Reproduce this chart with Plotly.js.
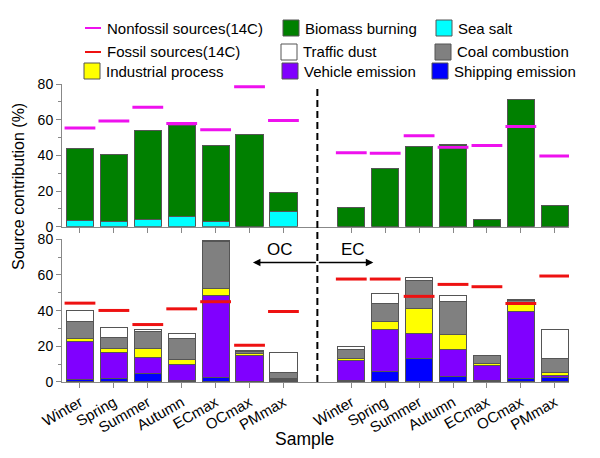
<!DOCTYPE html>
<html>
<head>
<meta charset="utf-8">
<script src="https://cdn.plot.ly/plotly-3.0.1.min.js"></script>
<style>
  html, body { margin: 0; padding: 0; background: #fff; }
  #chart { width: 600px; height: 458px; }
</style>
</head>
<body>
<div id="chart"></div>
<script>
var samples = ["Winter", "Spring", "Summer", "Autumn", "ECmax", "OCmax", "PMmax"];

// OC group (left), values in %
var seaSaltOC    = [3.6, 2.8, 4.1, 5.8, 2.8, 0, 8.8];
var biomassOC    = [40.1, 37.5, 49.7, 51.0, 42.9, 51.7, 10.3];
var nonfossilOC  = [55.3, 59.2, 66.9, 57.9, 54.3, 78.5, 59.6];
var shippingOC   = [1.5, 2.2, 4.7, 0.9, 2.6, 0.4, 0.8];
var vehicleOC    = [21.4, 14.5, 8.8, 8.8, 45.9, 14.6, 0.6];
var industrialOC = [1.5, 2.0, 5.0, 3.0, 4.1, 1.1, 0.3];
var coalOC       = [9.3, 6.2, 9.8, 11.5, 26.1, 0.8, 3.4];
var trafficOC    = [6.6, 5.5, 1.3, 3.2, 0.4, 0.5, 11.4];
var fossilOC     = [44.2, 40.1, 32.2, 41.0, 45.0, 20.6, 39.5];

// EC group (right)
var seaSaltEC    = [0, 0, 0, 0, 0, 0, 0];
var biomassEC    = [10.9, 32.4, 45.2, 45.9, 4.1, 71.4, 11.8];
var nonfossilEC  = [41.4, 41.2, 51.0, 44.6, 45.5, 56.2, 39.7];
var shippingEC   = [0.9, 6.0, 13.1, 3.2, 0.6, 1.9, 2.8];
var vehicleEC    = [10.9, 23.6, 14.3, 14.8, 8.6, 37.8, 0.9];
var industrialEC = [1.3, 4.1, 13.6, 8.6, 1.1, 3.6, 1.4];
var coalEC       = [5.1, 10.3, 15.8, 18.4, 4.7, 2.2, 7.8];
var trafficEC    = [1.8, 5.6, 1.7, 3.2, 0, 0.8, 16.3];
var fossilEC     = [57.7, 57.7, 48.0, 54.7, 53.4, 44.0, 59.4];

// x positions: OC at 0..6, EC at 8..14, gap at 7
var xPos = samples.map(function (s, i) { return i; })
    .concat(samples.map(function (s, i) { return i + 8; }));
var tickText = samples.concat(samples);

var edge = { color: "#555", width: 1 };

function bar(name, oc, ec, color, yaxis) {
    return {
        type: "bar",
        name: name,
        x: xPos,
        y: oc.concat(ec),
        yaxis: yaxis,
        xaxis: yaxis == "y2" ? "x2" : "x",
        width: 0.8,
        marker: { color: color, line: edge },
        showlegend: false,
        hoverinfo: "y+name",
    };
}

function dash(name, oc, ec, color, yaxis) {
    return {
        type: "scatter",
        mode: "markers",
        name: name,
        x: xPos,
        y: oc.concat(ec),
        yaxis: yaxis,
        xaxis: yaxis == "y2" ? "x2" : "x",
        marker: { symbol: "line-ew", size: 22, line: { color: color, width: 3 } },
        showlegend: false,
    };
}

var data = [
    bar("Sea salt", seaSaltOC, seaSaltEC, "#00ffff", "y2"),
    bar("Biomass burning", biomassOC, biomassEC, "#008000", "y2"),
    dash("Nonfossil sources(14C)", nonfossilOC, nonfossilEC, "#ee11ee", "y2"),
    bar("Shipping emission", shippingOC, shippingEC, "#0000ff", "y"),
    bar("Vehicle emission", vehicleOC, vehicleEC, "#8000ff", "y"),
    bar("Industrial process", industrialOC, industrialEC, "#ffff00", "y"),
    bar("Coal combustion", coalOC, coalEC, "#808080", "y"),
    bar("Traffic dust", trafficOC, trafficEC, "#ffffff", "y"),
    dash("Fossil sources(14C)", fossilOC, fossilEC, "#ee1111", "y"),
];

// pixel -> paper helpers for the hand-built legend
var L = 62, R = 31, T = 84, B = 76, W = 600, H = 458;
function px(v) { return (v - L) / (W - L - R); }
function py(v) { return (H - B - v) / (H - T - B); }

var shapes = [
    {
        type: "line", xref: "x", yref: "paper", x0: 7, x1: 7, y0: 0, y1: py(88),
        line: { color: "#000", width: 2, dash: "7px,4px" },
    },
];
var annotations = [
    {
        text: "Source contribution (%)", xref: "paper", yref: "paper",
        x: px(18), y: py(187), xanchor: "center", yanchor: "middle",
        textangle: -90, showarrow: false, font: { size: 16 },
    },
    {
        text: "Sample", xref: "paper", yref: "paper",
        x: px(304), y: py(439), xanchor: "center", yanchor: "middle",
        showarrow: false, font: { size: 17.5 },
    },
    { text: "OC", xref: "x", yref: "y", x: 5.9, y: 74, showarrow: false, font: { size: 17 } },
    { text: "EC", xref: "x", yref: "y", x: 8.05, y: 74, showarrow: false, font: { size: 17 } },
    {
        text: "", xref: "x", yref: "y", x: 5.1, y: 67, axref: "x", ayref: "y", ax: 7, ay: 67,
        showarrow: true, arrowhead: 2, arrowsize: 1, arrowwidth: 1.5, arrowcolor: "#000",
    },
    {
        text: "", xref: "x", yref: "y", x: 8.65, y: 67, axref: "x", ayref: "y", ax: 7, ay: 67,
        showarrow: true, arrowhead: 2, arrowsize: 1, arrowwidth: 1.5, arrowcolor: "#000",
    },
];

var legendItems = [
    { label: "Nonfossil sources(14C)", kind: "line", color: "#ee11ee", x: 85, y: 28 },
    { label: "Biomass burning", kind: "box", color: "#008000", x: 283, y: 28 },
    { label: "Sea salt", kind: "box", color: "#00ffff", x: 436, y: 28 },
    { label: "Fossil sources(14C)", kind: "line", color: "#ee1111", x: 85, y: 52 },
    { label: "Traffic dust", kind: "box", color: "#ffffff", x: 281, y: 52 },
    { label: "Coal combustion", kind: "box", color: "#808080", x: 435, y: 52 },
    { label: "Industrial process", kind: "box", color: "#ffff00", x: 84, y: 71 },
    { label: "Vehicle emission", kind: "box", color: "#8000ff", x: 282, y: 71 },
    { label: "Shipping emission", kind: "box", color: "#0000ff", x: 432, y: 71 },
];

legendItems.forEach(function (it) {
    if (it.kind == "line") {
        shapes.push({
            type: "line", xref: "paper", yref: "paper",
            x0: px(it.x), x1: px(it.x + 16), y0: py(it.y), y1: py(it.y),
            line: { color: it.color, width: 2 },
        });
    } else {
        shapes.push({
            type: "rect", xref: "paper", yref: "paper",
            x0: px(it.x), x1: px(it.x + 16), y0: py(it.y - 8), y1: py(it.y + 8),
            fillcolor: it.color, line: { color: "#555", width: 1 },
        });
    }
    annotations.push({
        text: it.label, xref: "paper", yref: "paper",
        x: px(it.x + 20), y: py(it.y), xanchor: "left", yanchor: "middle",
        showarrow: false, font: { size: 15 },
    });
});

var yCommon = {
    range: [0, 80],
    dtick: 20,
    ticks: "outside",
    ticklen: 5,
    tickcolor: "#888",
    showline: true,
    linecolor: "#888",
    showgrid: false,
    zeroline: false,
    minor: { dtick: 10, ticks: "outside", ticklen: 3, tickcolor: "#888" },
    tickfont: { size: 14 },
};

var xCommon = {
    range: [-0.53, 14.42],
    tickvals: xPos,
    ticktext: tickText,
    ticks: "outside",
    ticklen: 5,
    tickcolor: "#888",
    showline: true,
    linecolor: "#888",
    showgrid: false,
    zeroline: false,
};

var layout = {
    width: W,
    height: H,
    margin: { l: L, r: R, t: T, b: B },
    barmode: "stack",
    bargap: 0.2,
    showlegend: false,
    paper_bgcolor: "#fff",
    plot_bgcolor: "#fff",
    font: { family: "Liberation Sans, Arial, sans-serif", color: "#000", size: 15 },
    xaxis: Object.assign({}, xCommon, {
        anchor: "y",
        tickangle: -30,
        tickfont: { size: 15 },
    }),
    xaxis2: Object.assign({}, xCommon, {
        anchor: "y2",
        matches: "x",
        showticklabels: false,
    }),
    yaxis: Object.assign({}, yCommon, { domain: [0, 0.479], anchor: "x" }),
    yaxis2: Object.assign({}, yCommon, { domain: [0.521, 1], anchor: "x2" }),
    shapes: shapes,
    annotations: annotations,
};

Plotly.newPlot("chart", data, layout, { displayModeBar: false, staticPlot: true });
</script>
</body>
</html>
